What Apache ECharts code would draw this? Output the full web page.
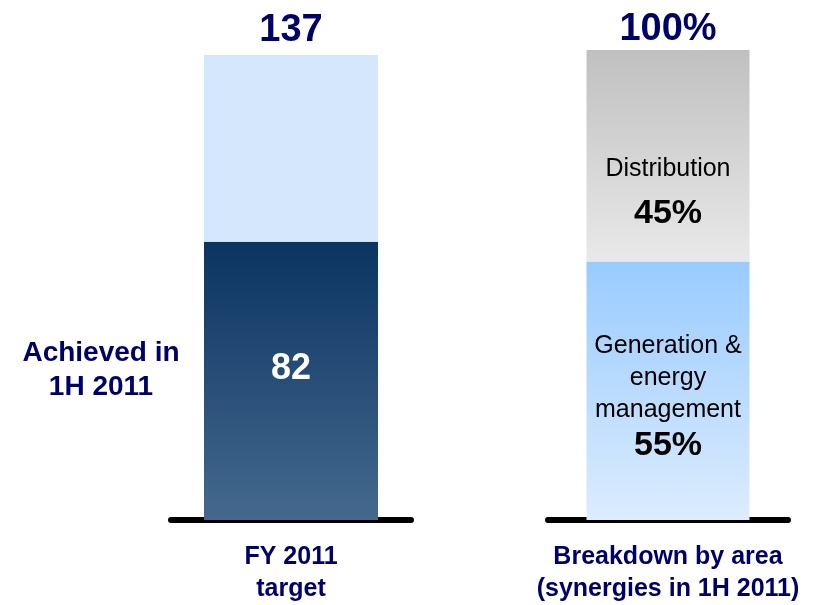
<!DOCTYPE html>
<html lang="en">

<head>
    <meta charset="UTF-8" />
    <script src="https://cdn.jsdelivr.net/npm/echarts@6/dist/echarts.min.js"></script>
    <title>Synergies</title>
    <style>
        html, body { margin: 0; padding: 0; background: #fff; }
    </style>
</head>

<body>
    <div id="chart" style="width: 815px; height: 605px"></div>
    <script>
        // left bar: FY 2011 target
        var targetCats = ["FY 2011\ntarget"];
        var achieved = [82];
        var remaining = [55];
        var targetTotal = [137];

        // right bar: breakdown by area (%)
        var areaCats = ["Breakdown by area\n(synergies in 1H 2011)"];
        var generation = [55];
        var distribution = [45];
        var areaTotal = [100];

        var navy = "#00006b";
        var font = "Liberation Sans";

        function vgrad(top, bottom) {
            return new echarts.graphic.LinearGradient(0, 0, 0, 1, [
                { offset: 0, color: top },
                { offset: 1, color: bottom }
            ]);
        }

        var xBase = {
            type: "category",
            axisTick: { show: false },
            axisLine: { lineStyle: { color: "#000", width: 6 } },
            axisLabel: {
                color: navy, fontFamily: font, fontWeight: "bold",
                fontSize: 25, lineHeight: 32, margin: 21
            }
        };
        var yBase = {
            type: "value", min: 0,
            axisLine: { show: false }, axisTick: { show: false },
            axisLabel: { show: false }, splitLine: { show: false }
        };

        var myChart = echarts.init(document.getElementById("chart"));
        var option = {
            animation: false,
            textStyle: { fontFamily: font },
            grid: [
                { left: 171, width: 240, top: 55, bottom: 85 },
                { left: 548, width: 240, top: 50, bottom: 85 }
            ],
            xAxis: [
                Object.assign({ gridIndex: 0, data: targetCats }, xBase),
                Object.assign({ gridIndex: 1, data: areaCats }, xBase)
            ],
            yAxis: [
                Object.assign({ gridIndex: 0, max: targetTotal[0] }, yBase),
                Object.assign({ gridIndex: 1, max: areaTotal[0] }, yBase)
            ],
            graphic: [{
                type: "text", x: 101, y: 336,
                style: {
                    text: "Achieved in\n1H 2011", fill: navy, textAlign: "center",
                    font: "bold 28px " + font, lineHeight: 34
                }
            }],
            series: [
                {
                    type: "bar", stack: "t", xAxisIndex: 0, yAxisIndex: 0,
                    data: achieved, barWidth: 174,
                    itemStyle: { color: vgrad("#0b3462", "#45698e") },
                    label: {
                        show: true, position: "inside", color: "#fff", offset: [0, -12],
                        fontSize: 36, fontWeight: "bold", fontFamily: font
                    }
                },
                {
                    type: "bar", stack: "t", xAxisIndex: 0, yAxisIndex: 0,
                    data: remaining, barWidth: 174,
                    itemStyle: { color: "#d4e7fc" },
                    label: {
                        show: true, position: "top", distance: 5, color: navy,
                        fontSize: 38, fontWeight: "bold", fontFamily: font,
                        formatter: function (p) { return targetTotal[p.dataIndex]; }
                    }
                },
                {
                    type: "bar", stack: "a", xAxisIndex: 1, yAxisIndex: 1,
                    data: generation, barWidth: 163,
                    itemStyle: { color: vgrad("#99cbff", "#dcecfd") },
                    label: {
                        show: true, position: "inside", offset: [0, 7],
                        formatter: "{n|Generation &\nenergy\nmanagement}\n{v|{c}%}",
                        rich: {
                            n: { fontSize: 25, lineHeight: 32, color: "#000", fontFamily: font },
                            v: { fontSize: 34, lineHeight: 40, fontWeight: "bold", color: "#000", fontFamily: font }
                        }
                    }
                },
                {
                    type: "bar", stack: "a", xAxisIndex: 1, yAxisIndex: 1,
                    data: distribution, barWidth: 163,
                    itemStyle: { color: vgrad("#c0c0c0", "#e9e9e9") },
                    label: {
                        show: true, position: "inside", offset: [0, 36],
                        formatter: "{n|Distribution}\n{v|{c}%}",
                        rich: {
                            n: { fontSize: 25, lineHeight: 44, color: "#000", fontFamily: font },
                            v: { fontSize: 34, lineHeight: 46, fontWeight: "bold", color: "#000", fontFamily: font }
                        }
                    }
                },
                {
                    // total label above the right bar
                    type: "bar", stack: "a", xAxisIndex: 1, yAxisIndex: 1,
                    data: [0], barWidth: 163, silent: true,
                    label: {
                        show: true, position: "top", distance: 1, color: navy,
                        fontSize: 38, fontWeight: "bold", fontFamily: font,
                        formatter: function (p) { return areaTotal[p.dataIndex] + "%"; }
                    }
                }
            ]
        };
        myChart.setOption(option);
    </script>
</body>

</html>
